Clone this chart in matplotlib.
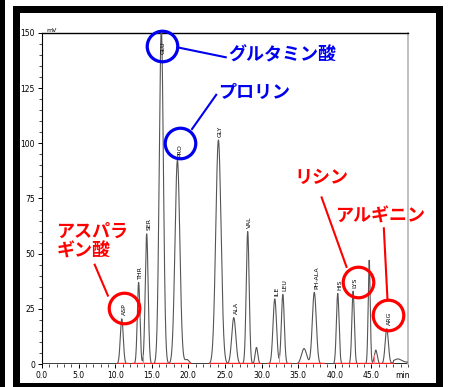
import numpy as np
import matplotlib
matplotlib.use("Agg")
import matplotlib.pyplot as plt
from matplotlib.patches import Rectangle
from matplotlib.ticker import MultipleLocator

plt.rcParams['font.family'] = ['Noto Sans CJK JP', 'DejaVu Sans']

# peaks: retention time (min), height (mV), width (sigma)
peak_names = ['ASP', 'THR', 'SER', 'GLU', 'PRO', '', 'GLY', 'ALA', 'VAL', '',
              'ILE', 'LEU', '', 'PH-ALA', 'HIS', 'LYS', '', '', 'ARG', '']
peak_times = [10.9, 13.2, 14.3, 16.3, 18.5, 19.8, 24.1, 26.2, 28.1, 29.3,
              31.8, 32.9, 35.8, 37.2, 40.4, 42.5, 44.7, 45.6, 47.1, 48.6]
peak_heights = [20.5, 37.0, 59.0, 152.0, 92.5, 2.0, 101.5, 21.0, 60.0, 7.5,
                29.5, 31.5, 7.0, 32.5, 32.0, 33.0, 47.0, 6.3, 16.0, 1.5]
peak_sigmas = [0.2, 0.18, 0.2, 0.28, 0.33, 0.3, 0.36, 0.28, 0.2, 0.18,
               0.24, 0.2, 0.35, 0.27, 0.18, 0.17, 0.14, 0.2, 0.22, 0.5]

# integration baselines (red) and drop lines
base_segments = [(10.2, 11.8), (12.3, 17.6), (18.0, 20.2), (22.8, 27.4),
                 (27.6, 29.8), (30.8, 34.0), (34.8, 38.5), (40.0, 43.2),
                 (43.5, 46.0), (46.2, 48.0)]
drop_lines = [13.75, 32.4, 45.3]

# highlighted peaks: circle position, label text and position, pointer line
callout_x = [16.4, 18.8, 11.2, 43.2, 47.2]
callout_y = [144.0, 100.0, 25.5, 37.0, 22.0]
callout_text = ['グルタミン酸', 'プロリン', 'アスパラ\nギン酸', 'リシン', 'アルギニン']
text_x = [25.4, 24.1, 2.0, 34.5, 40.2]
text_y = [140.0, 123.0, 55.5, 84.5, 67.0]
line_end_x = [25.1, 23.8, 7.2, 38.2, 46.7]
line_end_y = [139.0, 122.0, 45.0, 75.5, 61.5]
line_start_x = [18.5, 20.5, 9.0, 41.6, 47.2]
line_start_y = [143.5, 106.5, 31.0, 44.0, 29.0]
callout_color = ['#0000ee', '#0000ee', '#ff0000', '#ff0000', '#ff0000']

W, H = 451, 387
fig = plt.figure(figsize=(W / 100, H / 100), dpi=100)
ax = fig.add_axes([42 / W, 1 - 364 / H, (408 - 42) / W, (364 - 33) / H])

t = np.linspace(0, 50, 5001)
signal = np.zeros_like(t)
for tr, h, s in zip(peak_times, peak_heights, peak_sigmas):
    signal += h * np.exp(-0.5 * ((t - tr) / s) ** 2)
signal[t > 48.0] += 0.8

ax.plot(t, signal, color='#555555', lw=0.8, zorder=3)
for a, b in base_segments:
    ax.plot([a, b], [0.4, 0.4], color='#ff2020', lw=1.0, zorder=4)
for d in drop_lines:
    ax.plot([d, d], [0, 4], color='#ff8080', lw=0.8, zorder=4)
ax.axhline(0, color='black', lw=1.2, zorder=2)

for name, tr, h in zip(peak_names, peak_times, peak_heights):
    if not name:
        continue
    y = min(h, 139) + 1.5
    ax.text(tr + 0.3, y, name, rotation=90, ha='center', va='bottom',
            fontsize=4.5, family='DejaVu Sans', color='black', zorder=5)

ax.set_xlim(0, 50)
ax.set_ylim(0, 150)
ax.xaxis.set_major_locator(MultipleLocator(5))
ax.xaxis.set_minor_locator(MultipleLocator(1))
ax.yaxis.set_major_locator(MultipleLocator(25))
ax.yaxis.set_minor_locator(MultipleLocator(5))
ax.set_xticks(np.arange(0, 50, 5))
ax.set_xticklabels(['%.1f' % v for v in np.arange(0, 50, 5)])
ax.tick_params(labelsize=5.5, length=3, width=0.7, pad=2)
ax.tick_params(which='minor', length=2, width=0.5)
ax.text(49.3, -3.3, 'min', fontsize=5.5, ha='center', va='top', family='DejaVu Sans')
ax.text(0.6, 150, 'mV', fontsize=4.5, ha='left', va='bottom', family='DejaVu Sans')
for lab in ax.get_xticklabels() + ax.get_yticklabels():
    lab.set_family('DejaVu Sans')

ax.spines['top'].set_linewidth(1.0)
ax.spines['left'].set_linewidth(0.8)
ax.spines['bottom'].set_visible(False)
ax.spines['right'].set_color('#bbbbbb')
ax.spines['right'].set_linewidth(1.3)

for i in range(len(callout_x)):
    c = callout_color[i]
    ax.plot(callout_x[i], callout_y[i], 'o', ms=22, mfc='none', mec=c, mew=2.3,
            zorder=6, clip_on=False)
    ax.plot([line_start_x[i], line_end_x[i]], [line_start_y[i], line_end_y[i]],
            color=c, lw=1.5, zorder=6, clip_on=False)
    ax.text(text_x[i], text_y[i], callout_text[i], color=c, fontsize=13,
            fontweight='bold', ha='left', va='center', linespacing=1.05, zorder=7)

# black frames around the picture
def box(x0, y0, x1, y1):
    fig.add_artist(Rectangle((x0 / W, 1 - y1 / H), (x1 - x0) / W, (y1 - y0) / H,
                             transform=fig.transFigure, facecolor='black',
                             edgecolor='none'))

box(0, 0, 5, H)
box(13, 6, 443, 13)
box(13, 6, 20, H)
box(436, 6, 443, H)
box(13, 383, 443, H)

fig.savefig('out.png', dpi=100)
